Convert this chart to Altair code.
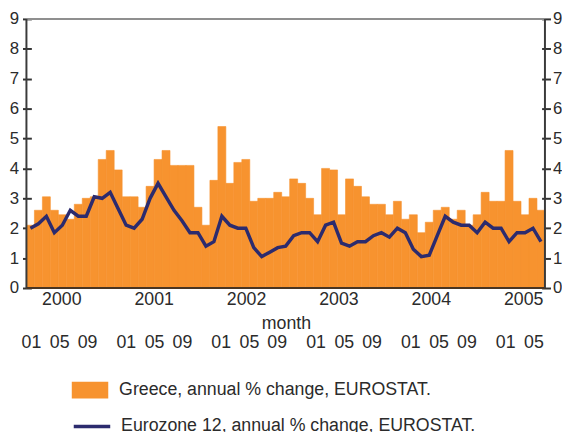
import altair as alt
import pandas as pd

# ---- data (monthly, Jan 2000 - May 2005) ----
years = ["2000", "2001", "2002", "2003", "2004", "2005"]
month_ticks = ["01", "05", "09"]
y_ticks = [0, 1, 2, 3, 4, 5, 6, 7, 8, 9]

greece = [2.1, 2.6, 3.05, 2.6, 2.45, 2.3, 2.8, 3.0, 3.05, 4.3, 4.6, 3.95,
          3.05, 3.05, 2.7, 3.4, 4.3, 4.6, 4.1, 4.1, 4.1, 2.7, 2.1, 3.6,
          5.4, 3.5, 4.2, 4.3, 2.9, 3.0, 3.0, 3.2, 3.05, 3.65, 3.5, 3.0,
          2.45, 4.0, 3.95, 2.45, 3.65, 3.4, 3.05, 2.8, 2.8, 2.45, 2.9, 2.3,
          2.45, 1.85, 2.2, 2.6, 2.7, 2.3, 2.6, 2.1, 2.45, 3.2, 2.9, 2.9,
          4.6, 2.9, 2.45, 3.0, 2.6]

eurozone = [2.0, 2.15, 2.4, 1.85, 2.1, 2.6, 2.4, 2.4, 3.05, 3.0, 3.2, 2.65,
            2.1, 2.0, 2.3, 3.0, 3.5, 3.05, 2.6, 2.25, 1.85, 1.85, 1.4, 1.55,
            2.4, 2.1, 2.0, 2.0, 1.35, 1.05, 1.2, 1.35, 1.4, 1.75, 1.85, 1.85,
            1.55, 2.1, 2.2, 1.5, 1.4, 1.55, 1.55, 1.75, 1.85, 1.7, 2.0, 1.85,
            1.3, 1.05, 1.1, 1.75, 2.4, 2.2, 2.1, 2.1, 1.85, 2.2, 2.0, 2.0,
            1.55, 1.85, 1.85, 2.0, 1.55]

greece_label = "Greece, annual % change, EUROSTAT."
euro_label = "Eurozone 12, annual % change, EUROSTAT."
x_title = "month"

# ---- styling ----
W, H = 526, 273
FONT = "Liberation Sans"
TXT = "#2b2b2b"
ORANGE = "#F7932F"
NAVY = "#2C2B6E"

n = len(greece)
df = pd.DataFrame({"i": list(range(n)), "greece": greece, "euro": eurozone})
df["i2"] = df["i"] + 1
df["mid"] = df["i"] + 0.5
df["s"] = greece_label
df["s2"] = euro_label

xs = alt.Scale(domain=[0, n], nice=False, zero=False, padding=0)
ys = alt.Scale(domain=[0, 9], nice=False)

axis_common = dict(values=y_ticks, tickSize=9, tickWidth=2, tickColor="#333333",
                   domain=False, grid=False, labelFontSize=17, labelFont=FONT,
                   labelColor=TXT, title=None)

bars = alt.Chart(df).mark_rect(strokeWidth=0.6, stroke=ORANGE).encode(
    x=alt.X("i:Q", scale=xs, axis=None),
    x2="i2:Q",
    y=alt.Y("greece:Q", scale=ys,
            axis=alt.Axis(orient="left", offset=-5, labelPadding=4, **axis_common)),
    y2=alt.datum(0),
    color=alt.Color("s:N", scale=alt.Scale(domain=[greece_label], range=[ORANGE]),
                    legend=alt.Legend(orient="none", legendX=46, legendY=358, title=None,
                                      symbolType="M-1,-0.46L1,-0.46L1,0.46L-1,0.46Z",
                                      symbolSize=1369, symbolStrokeWidth=0, symbolOpacity=1,
                                      labelFontSize=18, labelFont=FONT, labelColor=TXT,
                                      labelOffset=11, labelLimit=600, padding=0)),
)

line = alt.Chart(df).mark_line(strokeWidth=3.5).encode(
    x=alt.X("mid:Q", scale=xs, axis=None),
    y=alt.Y("euro:Q", scale=ys,
            axis=alt.Axis(orient="right", offset=-3.4, labelPadding=2, **axis_common)),
    color=alt.Color("s2:N", scale=alt.Scale(domain=[euro_label], range=[NAVY]),
                    legend=alt.Legend(orient="none", legendX=46, legendY=393, title=None,
                                      symbolType="stroke", symbolSize=1369,
                                      symbolStrokeWidth=3.5,
                                      labelFontSize=18, labelFont=FONT, labelColor=TXT,
                                      labelOffset=9, labelLimit=600, padding=0)),
)

top_rule = alt.Chart(pd.DataFrame({"v": [9]})).mark_rule(color="#8f8f8f", strokeWidth=2).encode(
    y=alt.Y("v:Q", scale=ys, axis=None))
bottom_rule = alt.Chart(pd.DataFrame({"v": [0]})).mark_rule(color="#4a3522", strokeWidth=2).encode(
    y=alt.Y("v:Q", scale=ys, axis=None))
left_rule = alt.Chart(pd.DataFrame({"v": [0]})).mark_rule(color="#3a3a3a", strokeWidth=2).encode(
    x=alt.X("v:Q", scale=xs, axis=None))
right_rule = alt.Chart(pd.DataFrame({"v": [n]})).mark_rule(color="#3a3a3a", strokeWidth=2).encode(
    x=alt.X("v:Q", scale=xs, axis=None))

# year labels
year_df = pd.DataFrame({"label": years,
                        "pos": [4.43 + 11.58 * k for k in range(len(years))]})
year_text = alt.Chart(year_df).mark_text(fontSize=18, font=FONT, color=TXT, baseline="middle").encode(
    x=alt.X("pos:Q", scale=xs, axis=None), y=alt.value(285), text="label:N")

# month tick labels
offs = [0.0, 3.54, 7.03]
rows = []
for k, yr in enumerate(years):
    for j, m in enumerate(month_ticks):
        if 12 * k + 4 * j < n:
            rows.append({"label": m, "pos": 0.63 + 11.89 * k + offs[j]})
month_df = pd.DataFrame(rows)
month_text = alt.Chart(month_df).mark_text(fontSize=18, font=FONT, color=TXT, baseline="middle").encode(
    x=alt.X("pos:Q", scale=xs, axis=None), y=alt.value(329), text="label:N")

title_text = alt.Chart(pd.DataFrame({"t": [x_title]})).mark_text(
    fontSize=18, font=FONT, color=TXT, baseline="middle").encode(
    x=alt.value(W / 2 + 0.7), y=alt.value(310), text="t:N")

chart = alt.layer(
    bars, line, top_rule, bottom_rule, left_rule, right_rule,
    year_text, month_text, title_text
).resolve_axis(y="independent").resolve_scale(color="independent").properties(
    width=W, height=H,
    autosize=alt.AutoSizeParams(type="none"),
    padding={"left": 18.7, "top": 8, "right": 17.3, "bottom": 143},
    background="white",
).configure_view(stroke=None)

chart.save("out.html", embed_options={"renderer": "svg", "actions": False})
